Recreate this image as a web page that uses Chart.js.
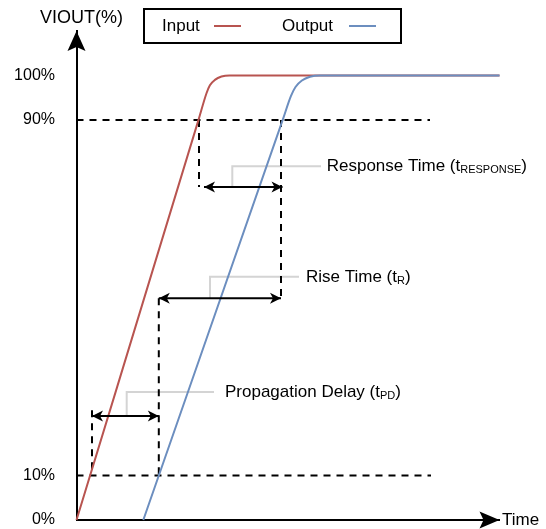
<!DOCTYPE html>
<html>
<head>
<meta charset="utf-8">
<script src="https://cdn.jsdelivr.net/npm/chart.js@4/dist/chart.umd.min.js"></script>
<style>
  html, body { margin: 0; padding: 0; background: #fff; }
  #c { display: block; }
</style>
</head>
<body>
<canvas id="c" width="546" height="529"></canvas>
<script>
// ---------- data (time in arbitrary units, value in %) ----------
const yTickValues = [0, 10, 90, 100];
const seriesNames = ['Input', 'Output'];
const seriesColors = ['#b85450', '#6c8ebf'];

const inputTime = [0, 122, 130, 133.4, 138.4, 145, 153, 423];
const inputPct  = [0, 90, 96, 97.8, 99, 99.75, 100, 100];

const outputTime = [66.8, 206.2, 214.5, 219, 225.4, 233.5, 243.5, 423];
const outputPct  = [0, 90, 95.4, 97.4, 98.85, 99.7, 100, 100];

// horizontal dashed threshold lines
const levelPct   = [10, 90];
const levelEnd   = [354.5, 353.5];

// vertical dashed markers
const markTime   = [122.5, 204.5, 82.3, 15.5];
const markFrom   = [90, 90, 49.9, 24.7];
const markTo     = [74.9, 49.9, 10, 10];

// double-headed measurement arrows + labels
const spanText   = ['Response Time (t', 'Rise Time (t', 'Propagation Delay (t'];
const spanSub    = ['RESPONSE', 'R', 'PD'];
const spanStart  = [127.5, 82.3, 15.5];
const spanEnd    = [206, 204.5, 82.3];
const spanLevel  = [74.9, 49.9, 23.4];
const leaderFoot = [155.8, 133.5, 50.2];
const leaderLevel= [79.6, 54.7, 28.8];
const leaderEnd  = [244.5, 222.5, 137.5];
const labelTime  = [250.2, 229.5, 148.5];

const FONT = '"Liberation Sans", Arial, Helvetica, sans-serif';

// ---------- datasets ----------
const toPts = (xs, ys) => xs.map((x, i) => ({ x: x, y: ys[i] }));
const datasets = [];

levelPct.forEach((p, i) => datasets.push({
  kind: 'guide', data: [{ x: 0, y: p }, { x: levelEnd[i], y: p }],
  borderColor: '#000', borderWidth: 2, borderDash: [7, 6], order: 5
}));
markTime.forEach((t, i) => datasets.push({
  kind: 'guide', data: [{ x: t, y: markFrom[i] }, { x: t, y: markTo[i] }],
  borderColor: '#000', borderWidth: 2, borderDash: [7, 6], order: 5
}));
spanStart.forEach((t, i) => datasets.push({
  kind: 'leader', data: [{ x: leaderFoot[i], y: spanLevel[i] }, { x: leaderFoot[i], y: leaderLevel[i] }, { x: leaderEnd[i], y: leaderLevel[i] }],
  borderColor: '#d4d4d4', borderWidth: 2, order: 6
}));
spanStart.forEach((t, i) => datasets.push({
  kind: 'span', idx: i, data: [{ x: t, y: spanLevel[i] }, { x: spanEnd[i], y: spanLevel[i] }],
  borderColor: '#000', borderWidth: 2, order: 1
}));
datasets.push({
  kind: 'series', label: seriesNames[0], data: toPts(inputTime, inputPct),
  borderColor: seriesColors[0], borderWidth: 2, cubicInterpolationMode: 'monotone', order: 3
});
datasets.push({
  kind: 'series', label: seriesNames[1], data: toPts(outputTime, outputPct),
  borderColor: seriesColors[1], borderWidth: 2, cubicInterpolationMode: 'monotone', order: 2
});
datasets.forEach(d => { d.pointRadius = 0; d.fill = false; d.clip = false; if (!d.cubicInterpolationMode) d.tension = 0; });

// ---------- helpers ----------
function arrowHead(ctx, x, y, dx, dy, len, half, notch) {
  const px = -dy, py = dx;
  ctx.beginPath();
  ctx.moveTo(x, y);
  ctx.lineTo(x - dx * len + px * half, y - dy * len + py * half);
  ctx.lineTo(x - dx * (len - notch), y - dy * (len - notch));
  ctx.lineTo(x - dx * len - px * half, y - dy * len - py * half);
  ctx.closePath();
  ctx.fill();
}

const decor = {
  id: 'decor',
  afterDraw(chart) {
    const ctx = chart.ctx;
    const xs = chart.scales.x, ys = chart.scales.y;
    const a = chart.chartArea;
    ctx.save();
    ctx.fillStyle = '#000';
    // axis arrows
    arrowHead(ctx, a.left, a.top, 0, -1, 20, 9, 4);
    arrowHead(ctx, a.right, a.bottom, 1, 0, 20, 8.5, 4);
    // axis titles
    ctx.textBaseline = 'middle';
    ctx.textAlign = 'left';
    ctx.font = '18px ' + FONT;
    ctx.fillText('VIOUT(%)', 40, 18);
    ctx.font = '17px ' + FONT;
    ctx.fillText('Time', 502, a.bottom);
    // measurement arrows
    chart.data.datasets.forEach(d => {
      if (d.kind !== 'span') return;
      const y = ys.getPixelForValue(d.data[0].y);
      const x0 = xs.getPixelForValue(d.data[0].x);
      const x1 = xs.getPixelForValue(d.data[1].x);
      arrowHead(ctx, x0, y, -1, 0, 11, 5.5, 3);
      arrowHead(ctx, x1, y, 1, 0, 11, 5.5, 3);
    });
    // labels
    spanText.forEach((txt, i) => {
      const x = xs.getPixelForValue(labelTime[i]);
      const y = ys.getPixelForValue(leaderLevel[i]);
      ctx.font = '17px ' + FONT;
      ctx.fillText(txt, x, y);
      let w = ctx.measureText(txt).width;
      ctx.font = '11px ' + FONT;
      ctx.fillText(spanSub[i], x + w, y + 4);
      w += ctx.measureText(spanSub[i]).width;
      ctx.font = '17px ' + FONT;
      ctx.fillText(')', x + w, y);
    });
    // legend
    ctx.lineWidth = 2;
    ctx.strokeStyle = '#000';
    ctx.strokeRect(144, 9, 257, 34);
    const series = chart.data.datasets.filter(d => d.kind === 'series');
    const textX = [162, 282], lineX = [214, 349];
    series.forEach((d, i) => {
      ctx.font = '17px ' + FONT;
      ctx.fillStyle = '#000';
      ctx.fillText(d.label, textX[i], 26);
      ctx.strokeStyle = d.borderColor;
      ctx.beginPath();
      ctx.moveTo(lineX[i], 26);
      ctx.lineTo(lineX[i] + 27, 26);
      ctx.stroke();
    });
    ctx.restore();
  }
};

new Chart(document.getElementById('c'), {
  type: 'line',
  data: { datasets: datasets },
  options: {
    responsive: false,
    devicePixelRatio: 1,
    animation: false,
    events: [],
    layout: { autoPadding: false, padding: { top: 31, right: 46.5, left: 0, bottom: 0 } },
    plugins: { legend: { display: false }, tooltip: { enabled: false }, title: { display: false } },
    scales: {
      x: {
        type: 'linear', min: 0, max: 423,
        grid: { display: false, drawTicks: false },
        border: { display: true, color: '#000', width: 2 },
        ticks: { display: false },
        afterFit(s) { s.height = 9; }
      },
      y: {
        type: 'linear', min: 0, max: 110,
        grid: { display: false, drawTicks: true, tickLength: 21.5 },
        border: { display: true, color: '#000', width: 2 },
        afterBuildTicks(s) { s.ticks = yTickValues.map(v => ({ value: v })); },
        ticks: {
          autoSkip: false, padding: 0, color: '#000',
          font: { size: 16, family: FONT, lineHeight: 1 },
          callback: v => v + '%'
        },
        afterFit(s) { s.width = 76.5; }
      }
    }
  },
  plugins: [decor]
});
</script>
</body>
</html>
